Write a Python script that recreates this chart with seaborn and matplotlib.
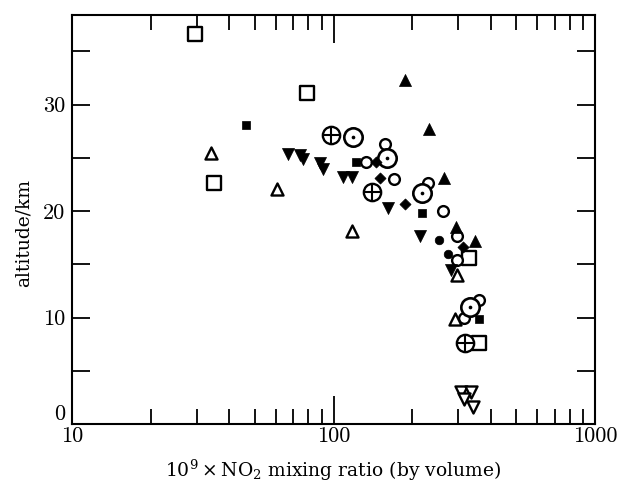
import numpy as np
import pandas as pd
import matplotlib
matplotlib.use("Agg")
import matplotlib.pyplot as plt
import seaborn as sns
from matplotlib.ticker import FixedLocator, NullFormatter, FixedFormatter

sns.set_style("ticks")
plt.rcParams['font.family'] = ['cmr10', 'DejaVu Serif']
plt.rcParams['mathtext.fontset'] = 'dejavuserif'
plt.rcParams['axes.formatter.use_mathtext'] = True
plt.rcParams['text.color'] = 'black'
plt.rcParams['axes.labelcolor'] = 'black'

# ---- data (NO2 mixing ratio x 1e9, altitude km) ----
open_sq_x = [29.4, 79.4, 34.8, 330, 360]
open_sq_y = [36.6, 31.1, 22.6, 15.6, 7.6]

fill_sq_x = [46.4, 122, 218, 360]
fill_sq_y = [28.1, 24.6, 19.8, 9.9]

open_ci_x = [133, 170, 157, 261, 229, 296, 316, 360, 297]
open_ci_y = [24.6, 23.0, 26.3, 20.0, 22.6, 15.4, 10.0, 11.7, 17.7]

dot_ci_x = [118.5, 160, 218, 332]
dot_ci_y = [27.0, 25.0, 21.7, 11.0]

cross_ci_x = [98, 140.5, 319]
cross_ci_y = [27.1, 21.8, 7.6]

fill_dm_x = [145.5, 150, 187, 311.6]
fill_dm_y = [24.6, 23.1, 20.7, 16.6]

fill_up_x = [265, 187, 232, 294, 348]
fill_up_y = [23.1, 32.3, 27.7, 18.5, 17.2]

open_up_x = [34.1, 60.8, 117.5, 296, 290]
open_up_y = [25.5, 22.1, 18.1, 14.0, 9.9]

fill_dn_x = [66.9, 74.1, 76.4, 88.4, 91, 108.5, 118, 161, 214, 281]
fill_dn_y = [25.4, 25.3, 24.9, 24.5, 24.0, 23.2, 23.2, 20.3, 17.7, 14.5]

fill_ci_x = [254, 273]
fill_ci_y = [17.3, 16.0]

open_dn_x = [307, 335, 316, 340]
open_dn_y = [3.0, 3.0, 2.4, 1.6]

x_ticklabels = ["10", "100", "1000"]
y_ticklabels = ["0", "10", "20", "30"]

fig = plt.figure(figsize=(6.18, 4.87), dpi=100)
ax = fig.add_axes([0.1165, 0.129, 0.963 - 0.1165, 0.969 - 0.129])
ax.set_xscale('log')

lw = 1.7
def pts(x, y, marker, s, face, edge='black', lwd=lw, z=3):
    sns.scatterplot(x=x, y=y, marker=marker, s=s, color=face, edgecolor=edge,
                    linewidth=lwd, ax=ax, zorder=z, legend=False)

pts(open_sq_x, open_sq_y, 's', 90, 'white')
pts(fill_sq_x, fill_sq_y, 's', 30, 'black', lwd=0.5)
pts(open_ci_x, open_ci_y, 'o', 60, 'white')
pts(dot_ci_x, dot_ci_y, 'o', 175, 'white', lwd=1.9)
pts(dot_ci_x, dot_ci_y, 'o', 7, 'black', lwd=0, z=4)
pts(cross_ci_x, cross_ci_y, 'o', 155, 'white', lwd=1.7)
pts(cross_ci_x, cross_ci_y, '+', 155, 'black', lwd=1.5, z=4)
pts(fill_dm_x, fill_dm_y, 'D', 32, 'black', lwd=0.5)
pts(fill_up_x, fill_up_y, '^', 75, 'black', lwd=0.5)
pts(open_up_x, open_up_y, '^', 75, 'white')
pts(fill_dn_x, fill_dn_y, 'v', 75, 'black', lwd=0.5)
pts(fill_ci_x, fill_ci_y, 'o', 38, 'black', lwd=0.5)
pts(open_dn_x, open_dn_y, 'v', 75, 'white')

ax.set_xlim(10, 1000)
ax.set_ylim(0, 38.4)

ax.xaxis.set_major_locator(FixedLocator([10, 100, 1000]))
ax.xaxis.set_major_formatter(FixedFormatter(x_ticklabels))
minors = [v * d for d in (10, 100) for v in range(2, 10)]
ax.xaxis.set_minor_locator(FixedLocator(minors))
ax.xaxis.set_minor_formatter(NullFormatter())
ax.yaxis.set_major_locator(FixedLocator([0, 10, 20, 30]))
ax.yaxis.set_major_formatter(FixedFormatter(y_ticklabels))
ax.yaxis.set_minor_locator(FixedLocator([5, 15, 25, 35]))

ax.tick_params(axis='both', which='both', direction='in', top=True, right=True,
               width=1.3, labelsize=16, colors='black')
ax.tick_params(axis='x', which='major', length=20, pad=1.5)
ax.tick_params(axis='x', which='minor', length=11)
ax.tick_params(axis='y', which='both', length=13, pad=5)

for sp in ax.spines.values():
    sp.set_linewidth(1.5)
    sp.set_color('black')

lab_font = dict(family=['DejaVu Serif'], fontsize=13.5, color='black')
ax.set_ylabel('altitude/km', **lab_font)
ax.set_xlabel(r'$10^9\times\mathrm{NO_2}$ mixing ratio (by volume)', **lab_font)
ax.yaxis.set_label_coords(-0.075, 0.467)
ax.xaxis.set_label_coords(0.5, -0.082)

fig.canvas.draw()
ax.get_yticklabels()[0].set_va('bottom')

fig.savefig('out.png', dpi=100, facecolor='white')
